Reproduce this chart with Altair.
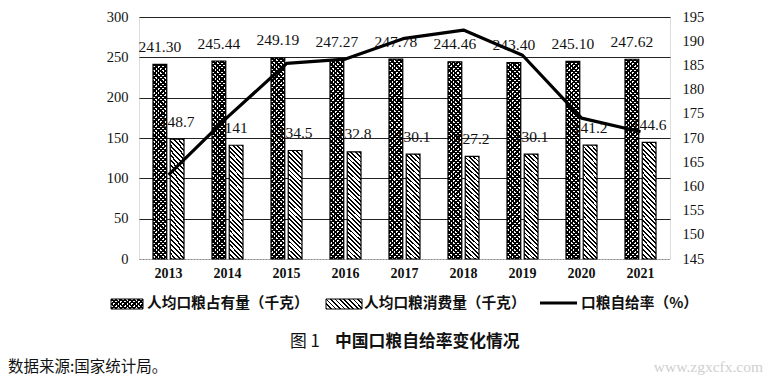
import altair as alt
import pandas as pd

# ---------------- data ----------------
years = ["2013", "2014", "2015", "2016", "2017", "2018", "2019", "2020", "2021"]
owned = [241.30, 245.44, 249.19, 247.27, 247.78, 244.46, 243.40, 245.10, 247.62]
consumption = [148.7, 141, 134.5, 132.8, 130.1, 127.2, 130.1, 141.2, 144.6]
rate = [162.4, 174.3, 185.4, 186.3, 190.6, 192.3, 187.1, 174.1, 171.3]

left_ticks = [0, 50, 100, 150, 200, 250, 300]
right_ticks = [145, 150, 155, 160, 165, 170, 175, 180, 185, 190, 195]

legend_owned = "人均口粮占有量（千克）"
legend_cons = "人均口粮消费量（千克）"
legend_rate = "口粮自给率（%）"
fig_no = "图 1"
fig_title = "中国口粮自给率变化情况"
source = "数据来源:国家统计局。"
watermark = "www.zgxcfx.com"

df = pd.DataFrame({"year": years, "owned": owned, "consumption": consumption, "rate": rate})

SERIF = "Liberation Serif"
CJK = "Noto Sans CJK SC"
W, H = 531, 242


def stripes(direction, w0, h0, period, dark_frac, dark="#000", light="#fff"):
    """Diagonal hatch emulated with a hard-stop linear gradient (bbox units)."""
    r = h0 / w0
    D = 1 + r * r
    s = (1 + r) / D
    if direction == "back":  # "\" stripes
        x1, y1, x2, y2 = 0, 1, s, 1 - s * r
    else:  # "/" stripes
        x1, y1, x2, y2 = 0, 0, s, s * r
    dt = period / (w0 + h0)
    stops = []
    k = 0
    while k * dt < 1:
        a = k * dt
        b = min(a + dark_frac * dt, 1)
        c = min((k + 1) * dt, 1)
        stops += [{"offset": a, "color": dark}, {"offset": b, "color": dark},
                  {"offset": b, "color": light}, {"offset": c, "color": light}]
        k += 1
    return {"gradient": "linear", "x1": x1, "y1": y1, "x2": x2, "y2": y2, "stops": stops}


grid_color = {"condition": {"test": "datum.value === 0", "value": "#888"}, "value": "#222"}
grid_dash = {"condition": {"test": "datum.value === 0", "value": [2, 1]}, "value": []}

x_enc = alt.X(
    "year:N", sort=years,
    scale=alt.Scale(paddingInner=0.4746, paddingOuter=0.2373),
    axis=alt.Axis(title=None, labelAngle=0, labelFont=SERIF, labelFontSize=14,
                  labelFontWeight="bold", labelColor="#111", ticks=False,
                  domain=False, labelPadding=7),
)
y_enc = alt.Y(
    "value:Q",
    scale=alt.Scale(domain=[0, 300], nice=False, zero=True),
    axis=alt.Axis(title=None, values=left_ticks, grid=True, gridColor=grid_color,
                  gridDash=grid_dash, gridWidth=1, ticks=False, domain=False,
                  labelFont=SERIF, labelFontSize=14.5, labelPadding=11, labelColor="#111"),
)
xo = alt.XOffset("key:N", scale=alt.Scale(domain=["owned", "consumption"],
                                          paddingInner=0.2, paddingOuter=0))

folded = alt.Chart(df).transform_fold(["owned", "consumption"], as_=["key", "value"])
f_owned = folded.transform_filter("datum.key == 'owned'")
f_cons = folded.transform_filter("datum.key == 'consumption'")

ownedA = f_owned.mark_bar(fill=stripes("back", 13.8, 198, 4.5, 0.5), strokeWidth=0).encode(
    x=x_enc, xOffset=xo, y=y_enc)
ownedB = f_owned.mark_bar(fill=stripes("fwd", 13.8, 198, 4.5, 0.5, light="rgba(0,0,0,0)"),
                          stroke="#000", strokeWidth=1.2).encode(x=x_enc, xOffset=xo, y=y_enc)
consB = f_cons.mark_bar(fill=stripes("back", 13.8, 110, 4.5, 0.42),
                        stroke="#000", strokeWidth=1.2).encode(x=x_enc, xOffset=xo, y=y_enc)

t_owned = f_owned.mark_text(dy=-17.5, baseline="middle", font=SERIF, fontSize=15.5,
                            color="#111").encode(
    x=x_enc, xOffset=xo, y=y_enc, text=alt.Text("value:Q", format=".2f"))
t_cons = f_cons.mark_text(dy=-17.5, baseline="middle", font=SERIF, fontSize=15.5,
                          color="#111").encode(
    x=x_enc, xOffset=xo, y=y_enc, text=alt.Text("value:Q", format=".4~g"))

left = alt.layer(ownedA, ownedB, consB, t_owned, t_cons)

line = alt.Chart(df).mark_line(color="#000", strokeWidth=3.2, strokeJoin="round").encode(
    x=x_enc,
    y=alt.Y("rate:Q", scale=alt.Scale(domain=[145, 195], nice=False, zero=False),
            axis=alt.Axis(orient="right", title=None, values=right_ticks, grid=False,
                          ticks=False, domain=False, labelFont=SERIF, labelFontSize=14.5,
                          labelPadding=12, labelColor="#111")),
)

one = alt.Data(values=[{}])
dec = alt.Chart(one)

sw1a = dec.mark_rect(fill=stripes("back", 32, 10, 4.5, 0.5), strokeWidth=0).encode(
    x=alt.value(-28), x2=alt.value(4), y=alt.value(282), y2=alt.value(292))
sw1b = dec.mark_rect(fill=stripes("fwd", 32, 10, 4.5, 0.5, light="rgba(0,0,0,0)"),
                     stroke="#000", strokeWidth=1).encode(
    x=alt.value(-28), x2=alt.value(4), y=alt.value(282), y2=alt.value(292))
sw2 = dec.mark_rect(fill=stripes("back", 36, 10, 4.5, 0.42), stroke="#000", strokeWidth=1).encode(
    x=alt.value(187), x2=alt.value(223), y=alt.value(282), y2=alt.value(292))
sw3 = dec.mark_rule(color="#000", strokeWidth=3.2).encode(
    x=alt.value(401), x2=alt.value(438), y=alt.value(286))


def label(txt, x, y, size, weight="normal", font=CJK, color="#111", align="left"):
    return dec.mark_text(align=align, baseline="middle", font=font, fontSize=size,
                         fontWeight=weight, color=color).encode(
        x=alt.value(x), y=alt.value(y), text=alt.value(txt))


lg1 = label(legend_owned, 8, 287, 14.7, "bold")
lg2 = label(legend_cons, 225, 287, 14.7, "bold")
lg3 = label(legend_rate, 442, 287, 14.7, "bold")
tt1 = label(fig_no, 151, 325, 16.8, "normal")
tt2 = label(fig_title, 196, 325, 16.8, "bold")
src = label(source, -131, 350, 15.5, "normal")
wm = label(watermark, 624, 350, 15.5, "normal", font=SERIF, color="#cfcfcf", align="right")

chart = alt.layer(left, line, sw1a, sw1b, sw2, sw3, lg1, lg2, lg3, tt1, tt2, src, wm).resolve_scale(
    y="independent"
).properties(
    width=W, height=H,
    autosize=alt.AutoSizeParams(type="none"),
    padding={"left": 131, "top": 9, "right": 96, "bottom": 120},
).configure_view(stroke=None).configure(background="white")

chart.save("out.html", embed_options={"renderer": "svg", "actions": False})
